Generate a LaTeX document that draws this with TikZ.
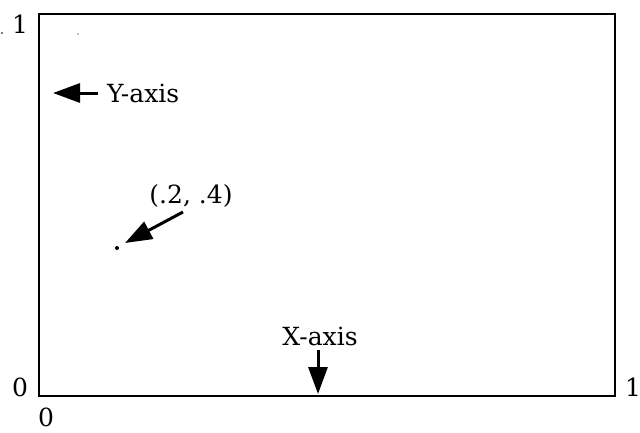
\documentclass[tikz,border=0pt]{standalone}
\usepackage{fontspec}
\setmainfont{DejaVu Serif}
\usetikzlibrary{arrows.meta}
\begin{document}
\begin{tikzpicture}[x=1pt,y=-1pt,
  lbl/.style={inner sep=0pt, font=\fontsize{25}{29}\selectfont},
  frame/.style={line width=2.5pt},
  pointer/.style={line width=3pt, -{Triangle[length=27pt,width=19pt]}},
  speck/.style={fill=black}]
\useasboundingbox (0,0) rectangle (640,432);
% unit square frame
\draw[frame] (39,14) rectangle (615,396);
% corner values
\node[lbl, anchor=base] (top1) at (20,33) {1};
\node[lbl, anchor=base] (left0) at (20,396) {0};
\node[lbl, anchor=base] (bottom0) at (46,426) {0};
\node[lbl, anchor=base] (right1) at (633,396) {1};
% stray specks
\fill[speck] (2,33) circle (0.9);
\fill[speck] (78,34) circle (0.7);
% axis labels with pointers
\node[lbl, anchor=base west] (ylab) at (107,102) {Y-axis};
\coordinate (ytip) at (53,93);
\draw[pointer] (ylab.west |- ytip) ++(-9,0) coordinate (ytail) (ytail) -- (ytip);
\node[lbl, anchor=base] (xlab) at (320,345) {X-axis};
\coordinate (xtail) at (318,350);
\coordinate (xtip) at (318,394);
\draw[pointer] (xtail) -- (xtip);
% the sample point
\fill (117,248) circle (2) coordinate (pt);
\node[lbl, anchor=base] (ptlab) at (191,203) {(.2, .4)};
\coordinate (ptail) at (183,212);
\coordinate (ptip) at (125,243);
\draw[pointer] (ptail) -- (ptip);
\end{tikzpicture}
\end{document}
